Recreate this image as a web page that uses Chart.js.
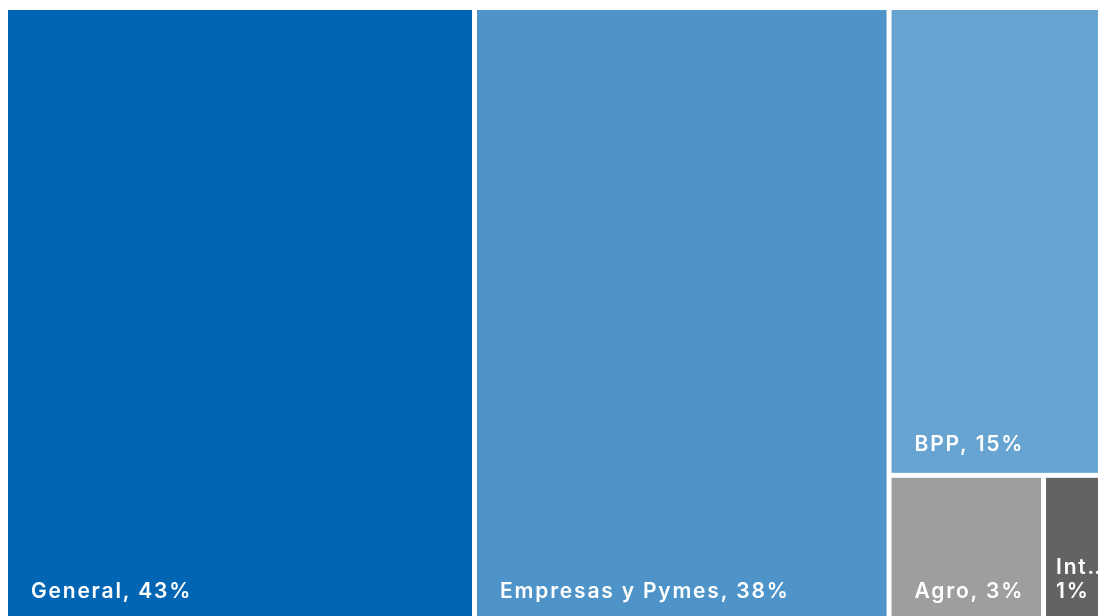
<!DOCTYPE html>
<html>
<head>
<meta charset="utf-8">
<script src="https://cdn.jsdelivr.net/npm/chart.js@4/dist/chart.umd.min.js"></script>
<style>
html,body{margin:0;padding:0;background:#fff;}
#wrap{width:1098px;height:616px;}
</style>
</head>
<body>
<div id="wrap"><canvas id="c" width="1098" height="616"></canvas></div>
<script>
// Data
const categories = ["General", "Empresas y Pymes", "BPP", "Agro", "Internacional"];
const values = [42.8, 38.03, 14.72, 3.29, 1.16];
const labelPercents = [43, 38, 15, 3, 1];
const colors = ["#0066b3", "#4f94c9", "#67a4d1", "#9e9e9e", "#636363"];

// squarified layout in normalized units (x:0..100, y:0..100), aspect = px width / px height
function squarify(vals, aspect) {
  const total = vals.reduce((a, b) => a + b, 0);
  let H = Math.sqrt(total / aspect), W = aspect * H;
  let x = 0, y = 0, w = W, h = H;
  const rects = [];
  let i = 0;
  function worst(row, side) {
    const s = row.reduce((a, b) => a + b, 0);
    const thick = s / side;
    let m = 0;
    row.forEach(v => { const len = v / thick; m = Math.max(m, Math.max(len / thick, thick / len)); });
    return m;
  }
  while (i < vals.length) {
    const side = Math.min(w, h);
    let row = [vals[i]];
    let j = i + 1;
    while (j < vals.length && worst(row.concat(vals[j]), side) <= worst(row, side)) { row.push(vals[j]); j++; }
    const s = row.reduce((a, b) => a + b, 0);
    const thick = s / side;
    let off = 0;
    row.forEach((v, k) => {
      const len = v / thick;
      if (w >= h) { rects.push({ idx: i + k, x: x, y: y + off, w: thick, h: len }); }
      else { rects.push({ idx: i + k, x: x + off, y: y, w: len, h: thick }); }
      off += len;
    });
    if (w >= h) { x += thick; w -= thick; } else { y += thick; h -= thick; }
    i = j;
  }
  return rects.map(r => ({ idx: r.idx, x0: r.x / W * 100, x1: (r.x + r.w) / W * 100, y0: r.y / H * 100, y1: (r.y + r.h) / H * 100 }));
}

const treemapPlugin = {
  id: 'treemap',
  beforeDatasetsDraw(chart) {
    const ctx = chart.ctx, xs = chart.scales.x, ys = chart.scales.y, ca = chart.chartArea;
    const aspect = (ca.right - ca.left) / (ca.bottom - ca.top);
    const rects = squarify(values, aspect);
    const g = 2.5;
    ctx.save();
    rects.forEach(r => {
      let L = xs.getPixelForValue(r.x0), R = xs.getPixelForValue(r.x1);
      let T = ys.getPixelForValue(100 - r.y0), B = ys.getPixelForValue(100 - r.y1);
      if (r.x0 > 0.01) L += g; if (r.x1 < 99.99) R -= g;
      if (r.y0 > 0.01) T += g; if (r.y1 < 99.99) B -= g;
      ctx.fillStyle = colors[r.idx];
      ctx.fillRect(L, T, R - L, B - T);
      // label
      ctx.fillStyle = '#ffffff';
      ctx.font = '600 21px Inter, sans-serif';
      try { ctx.letterSpacing = '1.8px'; } catch (e) {}
      ctx.textBaseline = 'alphabetic';
      ctx.textAlign = 'left';
      const wpx = R - L;
      const pad = wpx < 100 ? 10 : 23;
      const full = categories[r.idx] + ', ' + labelPercents[r.idx] + '%';
      const bottomOff = (r.y1 >= 99.99) ? 18 : 22;
      if (ctx.measureText(full).width <= wpx - pad) {
        ctx.fillText(full, L + pad, B - bottomOff);
      } else {
        let name = categories[r.idx];
        let t = name;
        for (let n = name.length; n > 0; n--) {
          t = name.slice(0, n) + '…';
          if (ctx.measureText(t).width <= wpx + 10) break;
        }
        ctx.fillText(t, L + pad, B - bottomOff - 24);
        ctx.fillText(labelPercents[r.idx] + '%', L + pad, B - bottomOff);
      }
    });
    ctx.restore();
  }
};

new Chart(document.getElementById('c'), {
  type: 'scatter',
  data: { datasets: [{ data: [] }] },
  options: {
    responsive: false,
    animation: false,
    layout: { padding: { left: 8, top: 10, right: 0, bottom: 0 } },
    scales: {
      x: { type: 'linear', min: 0, max: 100, display: false },
      y: { type: 'linear', min: 0, max: 100, display: false }
    },
    plugins: { legend: { display: false }, tooltip: { enabled: false } }
  },
  plugins: [treemapPlugin]
});
</script>
</body>
</html>
